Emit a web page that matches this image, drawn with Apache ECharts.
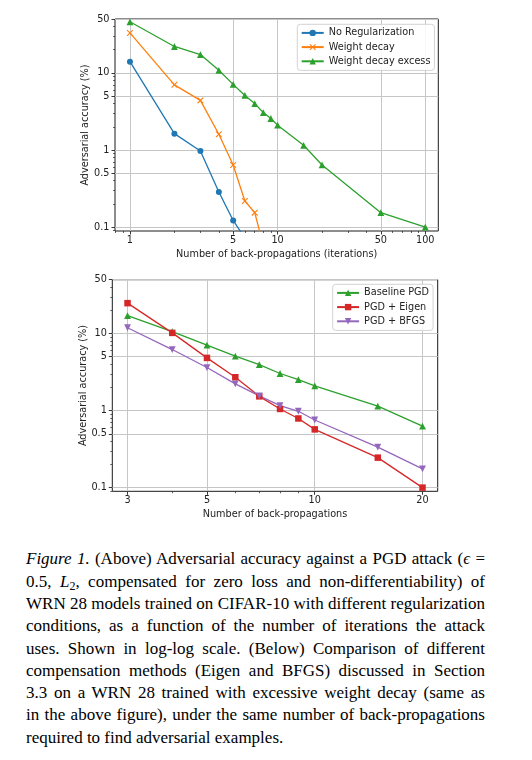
<!DOCTYPE html>
<html>
<head>
<meta charset="utf-8">
<script src="https://cdn.jsdelivr.net/npm/echarts@6/dist/echarts.min.js"></script>
<style>
  html, body { margin: 0; padding: 0; background: #fff; width: 532px; height: 760px; overflow: hidden; }
  #chart { position: absolute; left: 0; top: 0; width: 532px; height: 535px; }
  #cap { position: absolute; left: 26px; top: 548.4px; width: 459px; font-family: 'Liberation Serif', 'Times New Roman', serif; font-size: 17px; line-height: 22.3px; color: #000; }
  #cap .j { text-align: justify; text-align-last: justify; word-spacing: -1.5px; }
  #cap sub { font-size: 12px; vertical-align: -3px; line-height: 0; }
</style>
</head>
<body>
<div id="chart"></div>
<div id="cap">
  <div class="j"><i>Figure 1.</i> (Above) Adversarial accuracy against a PGD attack (<i>ϵ</i> =</div>
  <div class="j">0.5, <i>L</i><sub>2</sub>, compensated for zero loss and non-differentiability) of</div>
  <div class="j">WRN 28 models trained on CIFAR-10 with different regularization</div>
  <div class="j">conditions, as a function of the number of iterations the attack</div>
  <div class="j">uses. Shown in log-log scale. (Below) Comparison of different</div>
  <div class="j">compensation methods (Eigen and BFGS) discussed in Section</div>
  <div class="j">3.3 on a WRN 28 trained with excessive weight decay (same as</div>
  <div class="j">in the above figure), under the same number of back-propagations</div>
  <div>required to find adversarial examples.</div>
</div>
<script>
// ---------- Data: top chart ----------
const topNoRegX = [1, 2, 3, 4, 5, 6];
const topNoRegY = [14, 1.63, 0.97, 0.285, 0.122, 0.072];
const topWdX = [1, 2, 3, 4, 5, 6, 7, 8];
const topWdY = [33, 7.0, 4.4, 1.6, 0.64, 0.218, 0.154, 0.058];
const topWdeX = [1, 2, 3, 4, 5, 6, 7, 8, 9, 10, 15, 20, 50, 100];
const topWdeY = [46, 22, 17.3, 10.8, 7.1, 5.1, 4.0, 3.06, 2.56, 2.1, 1.15, 0.64, 0.154, 0.1];
const topXTicks = [1, 5, 10, 50, 100];
const topXMinor = [0.8, 0.9, 2, 3, 4, 6, 7, 8, 9, 20, 30, 40, 60, 70, 80, 90];
const topNames = ['No Regularization', 'Weight decay', 'Weight decay excess'];

// ---------- Data: bottom chart ----------
const botX = [3, 4, 5, 6, 7, 8, 9, 10, 15, 20];
const botBaseline = [17.1, 10.6, 7.07, 5.08, 3.95, 3.03, 2.53, 2.09, 1.14, 0.63];
const botEigen = [24.8, 10.2, 4.83, 2.71, 1.53, 1.05, 0.79, 0.57, 0.245, 0.10];
const botBfgs = [11.9, 6.2, 3.62, 2.22, 1.55, 1.16, 0.98, 0.755, 0.336, 0.175];
const botXTicks = [3, 5, 10, 20];
const botXMinor = [4, 6, 7, 8, 9];
const botNames = ['Baseline PGD', 'PGD + Eigen', 'PGD + BFGS'];

// ---------- Shared y ticks ----------
const yTicks = [0.1, 0.5, 1, 5, 10, 50];
const yMinor = [0.09, 0.2, 0.3, 0.4, 0.6, 0.7, 0.8, 0.9, 2, 3, 4, 6, 7, 8, 9, 20, 30, 40];

const zip = (xs, ys) => xs.map((x, i) => [x, ys[i]]);

const FONT = 'DejaVu Sans';
const FS = 9.7;
const TXT = '#222';
const GRIDC = '#c6c6c6';
const C = { blue: '#1f77b4', orange: '#ff7f0e', green: '#2ca02c', red: '#d62728', purple: '#9467bd' };
const X_SYM = 'path://M0,1.2 L1.2,0 L5,3.8 L8.8,0 L10,1.2 L6.2,5 L10,8.8 L8.8,10 L5,6.2 L1.2,10 L0,8.8 L3.8,5 Z';
const TRI_DOWN = 'path://M0,0 L10,0 L5,10 Z';

function majorAxis(gridIndex, min, max, ticks, name, isX, nameGap) {
  return {
    type: 'log', logBase: 10, gridIndex, min, max,
    position: isX ? 'bottom' : 'left',
    name, nameLocation: 'middle', nameGap, nameMoveOverlap: false,
    nameTextStyle: { fontFamily: FONT, fontSize: FS, color: TXT },
    axisLine: { show: false },
    axisTick: { show: true, length: 3.5, customValues: ticks, lineStyle: { color: '#222', width: 0.9 } },
    axisLabel: { show: true, customValues: ticks, margin: isX ? 4.5 : 5.5, fontFamily: FONT, fontSize: FS, color: TXT,
      formatter: v => String(v), hideOverlap: false },
    splitLine: { show: true, lineStyle: { color: GRIDC, width: 1 } },
    minorTick: { show: false }, minorSplitLine: { show: false }
  };
}
function minorAxis(gridIndex, min, max, ticks, isX) {
  return {
    type: 'log', logBase: 10, gridIndex, min, max,
    position: isX ? 'bottom' : 'left', offset: 0,
    axisLine: { show: false },
    axisTick: { show: true, length: 2, customValues: ticks, lineStyle: { color: '#222', width: 0.7 } },
    axisLabel: { show: false },
    splitLine: { show: false }
  };
}
function lineSeries(name, data, color, symbol, size, xi, yi) {
  return {
    name, type: 'line', data, xAxisIndex: xi, yAxisIndex: yi,
    symbol, symbolSize: size, showSymbol: true, clip: true,
    lineStyle: { color, width: 1.3 },
    itemStyle: { color, borderWidth: 0 },
    emphasis: { disabled: true },
    animation: false, z: 3
  };
}
function legend(names, left, top) {
  return {
    data: names, orient: 'vertical', left, top,
    itemWidth: 22, itemHeight: 8, itemGap: 3,
    padding: [3, 4, 3.5, 3.4],
    backgroundColor: 'rgba(255,255,255,0.85)', borderColor: '#d3d3d3', borderWidth: 1, borderRadius: 3,
    textStyle: { fontFamily: FONT, fontSize: FS, color: TXT, lineHeight: 11.2 },
    selectedMode: false
  };
}

const option = {
  animation: false,
  backgroundColor: '#fff',
  grid: [
    { left: 115, top: 19, width: 323.3, height: 212, show: true, borderColor: '#1a1a1a', borderWidth: 1, backgroundColor: 'transparent', outerBoundsMode: 'none' },
    { left: 112.3, top: 279.7, width: 325.4, height: 211.6, show: true, borderColor: '#1a1a1a', borderWidth: 1, backgroundColor: 'transparent', outerBoundsMode: 'none' }
  ],
  xAxis: [
    majorAxis(0, 0.792, 122.5, topXTicks, 'Number of back-propagations (iterations)', true, 18.5),
    minorAxis(0, 0.792, 122.5, topXMinor, true),
    majorAxis(1, 2.72, 22.05, botXTicks, 'Number of back-propagations', true, 18.5),
    minorAxis(1, 2.72, 22.05, botXMinor, true)
  ],
  yAxis: [
    majorAxis(0, 0.089, 50, yTicks, 'Adversarial accuracy (%)', false, 24.5),
    minorAxis(0, 0.089, 50, yMinor, false),
    majorAxis(1, 0.0896, 50, yTicks, 'Adversarial accuracy (%)', false, 24),
    minorAxis(1, 0.0896, 50, yMinor, false)
  ],
  legend: [
    legend(topNames, 297.3, 24.3),
    legend(botNames, 332.7, 284.3)
  ],
  series: [
    lineSeries(topNames[0], zip(topNoRegX, topNoRegY), C.blue, 'circle', 6, 0, 0),
    lineSeries(topNames[1], zip(topWdX, topWdY), C.orange, X_SYM, 6.5, 0, 0),
    lineSeries(topNames[2], zip(topWdeX, topWdeY), C.green, 'triangle', 6.8, 0, 0),
    lineSeries(botNames[0], zip(botX, botBaseline), C.green, 'triangle', 6.8, 2, 2),
    lineSeries(botNames[1], zip(botX, botEigen), C.red, 'rect', 6.5, 2, 2),
    lineSeries(botNames[2], zip(botX, botBfgs), C.purple, TRI_DOWN, 6.8, 2, 2)
  ]
};

const chart = echarts.init(document.getElementById('chart'), null, { renderer: 'canvas' });
chart.setOption(option);
</script>
</body>
</html>
